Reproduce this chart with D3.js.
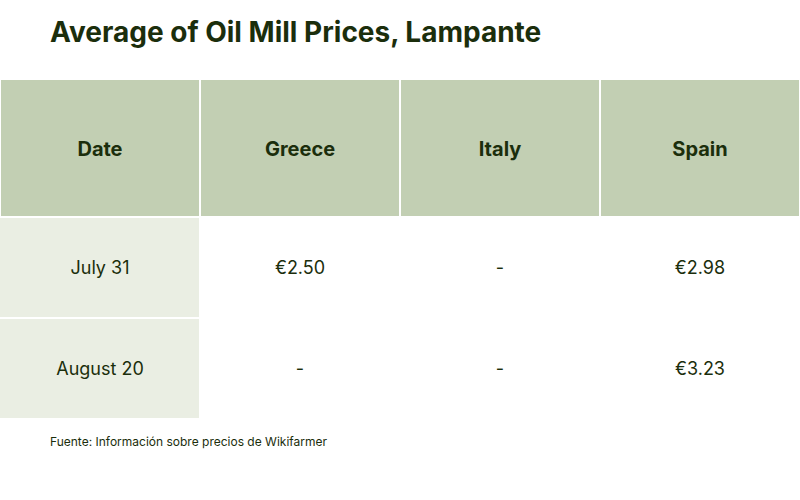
<!DOCTYPE html>
<html><head><meta charset="utf-8">
<script src="https://cdn.jsdelivr.net/npm/d3@7"></script>
<style>body{margin:0;background:#fff}</style></head>
<body><svg id="c" width="800" height="500"></svg>
<script>
const columns = ["Date","Greece","Italy","Spain"];
const dates = ["July 31","August 20"];
const greece = ["€2.50","-"];
const italy = ["-","-"];
const spain = ["€2.98","€3.23"];
const svg = d3.select("#c");
const font = "Inter, 'Noto Sans', sans-serif";
svg.append("text").attr("x",50).attr("y",42).attr("font-family",font).attr("font-weight",700)
  .attr("font-size",28).attr("fill","#1b2e0c").text("Average of Oil Mill Prices, Lampante");
const x = d3.scaleBand().domain(columns).range([0,800]);
const rowsY = d3.scaleOrdinal().domain(["h",...dates]).range([80,217,318]);
const rowH = {h:137};
svg.selectAll("rect.h").data(columns).join("rect").attr("x",d=>x(d)+1).attr("y",80)
  .attr("width",x.bandwidth()-2).attr("height",136).attr("fill","#c2cfb3");
svg.selectAll("text.h").data(columns).join("text").attr("x",d=>x(d)+x.bandwidth()/2).attr("y",156)
  .attr("text-anchor","middle").attr("font-family",font).attr("font-weight",700).attr("font-size",20)
  .attr("fill","#1b2e0c").text(d=>d);
const rows = dates.map((d,i)=>[d,greece[i],italy[i],spain[i]]);
rows.forEach((r,i)=>{
  const y0 = rowsY(dates[i]);
  svg.append("rect").attr("x",0).attr("y",y0+1).attr("width",x.bandwidth()-1).attr("height",99).attr("fill","#eaeee3");
  r.forEach((v,j)=>{
    svg.append("text").attr("x",x(columns[j])+x.bandwidth()/2).attr("y",y0+57).attr("text-anchor","middle")
      .attr("font-family",font).attr("font-size",18).attr("fill","#1b2e0c").text(v);
  });
});
svg.append("text").attr("x",50).attr("y",446).attr("font-family",font).attr("font-size",12)
  .attr("fill","#1b2e0c").text("Fuente: Información sobre precios de Wikifarmer");
</script></body></html>
